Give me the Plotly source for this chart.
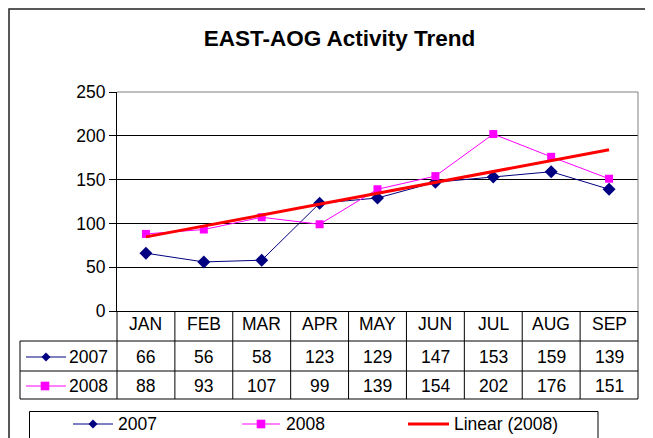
import numpy as np
import plotly.graph_objects as go

# data
months = ["JAN", "FEB", "MAR", "APR", "MAY", "JUN", "JUL", "AUG", "SEP"]
v2007 = [66, 56, 58, 123, 129, 147, 153, 159, 139]
v2008 = [88, 93, 107, 99, 139, 154, 202, 176, 151]
names = ["2007", "2008", "Linear (2008)"]
colors = ["#000080", "#FF00FF", "#FF0000"]

# linear trendline of 2008, the way Excel does it
xi = np.arange(1, len(v2008) + 1)
slope, icpt = np.polyfit(xi, v2008, 1)
trend = list(slope * xi + icpt)

W, H = 653, 438
OFF = 8                          # page body margin
L, R, T, B = 117, 638, 92, 311   # plot area in window pixels
FONT = "Liberation Sans, Arial, sans-serif"
FS = 17.5


def px(x):
    return (x - L) / (R - L)


def py(y):
    return (B - y) / (B - T)


fig = go.Figure()
fig.add_trace(go.Scatter(x=months, y=v2007, name=names[0], mode="lines+markers",
                         line=dict(color=colors[0], width=1),
                         marker=dict(symbol="diamond", size=10, color=colors[0])))
fig.add_trace(go.Scatter(x=months, y=v2008, name=names[1], mode="lines+markers",
                         line=dict(color=colors[1], width=1),
                         marker=dict(symbol="square", size=8, color=colors[1])))
fig.add_trace(go.Scatter(x=months, y=trend, name=names[2], mode="lines",
                         line=dict(color=colors[2], width=3)))

shapes = []
ann = []


def hline(x0, x1, y, color="black", width=1):
    shapes.append(dict(type="line", xref="paper", yref="paper", x0=px(x0), x1=px(x1),
                       y0=py(y), y1=py(y), line=dict(color=color, width=width)))


def vline(x, y0, y1, color="black", width=1):
    shapes.append(dict(type="line", xref="paper", yref="paper", x0=px(x), x1=px(x),
                       y0=py(y0), y1=py(y1), line=dict(color=color, width=width)))


def diamond(cx, cy, r, color):
    path = "M {},{} L {},{} L {},{} L {},{} Z".format(
        px(cx), py(cy - r), px(cx + r), py(cy), px(cx), py(cy + r), px(cx - r), py(cy))
    shapes.append(dict(type="path", xref="paper", yref="paper", path=path,
                       fillcolor=color, line=dict(color=color, width=0)))


def square(cx, cy, r, color):
    shapes.append(dict(type="rect", xref="paper", yref="paper",
                       x0=px(cx - r), x1=px(cx + r), y0=py(cy + r), y1=py(cy - r),
                       fillcolor=color, line=dict(color=color, width=0)))


def label(x, y, text, anchor="left"):
    ann.append(dict(xref="paper", yref="paper", x=px(x), y=py(y), text=text,
                    xanchor=anchor, yanchor="middle", showarrow=False,
                    font=dict(family=FONT, size=FS, color="black")))


# outer chart border
shapes.append(dict(type="rect", xref="paper", yref="paper", x0=px(OFF + 1), x1=px(670),
                   y0=py(OFF + 1), y1=py(460), line=dict(color="#222", width=1.5)))
# plot area border (top / right)
hline(L, R, T, color="#808080")
vline(R, T, B, color="#808080")

# data table
hline(20, R, 341)
hline(20, R, 371)
hline(20, R, 399)
vline(20, 341, 399)
vline(L, B, 399)
vline(R, B, 399)
for i in range(1, len(months)):
    shapes.append(dict(type="line", xref="x", yref="paper", x0=i - 0.5, x1=i - 0.5,
                       y0=py(B), y1=py(399), line=dict(color="black", width=1)))

for i, m in enumerate(months):
    for yy, txt in [(324, m), (357, str(v2007[i])), (386, str(v2008[i]))]:
        ann.append(dict(xref="x", yref="paper", x=m, y=py(yy), text=txt, showarrow=False,
                        yanchor="middle", font=dict(family=FONT, size=FS, color="black")))

# legend keys in the table
hline(26, 66, 357, color=colors[0])
diamond(46, 357, 4.5, colors[0])
label(110, 357, names[0], "right")
hline(26, 66, 386, color=colors[1])
square(45, 386, 4.3, colors[1])
label(110, 386, names[1], "right")

# legend box
shapes.append(dict(type="rect", xref="paper", yref="paper", x0=px(29.5), x1=px(598),
                   y0=py(411.5), y1=py(460), line=dict(color="black", width=1)))
hline(73, 113, 424, color=colors[0])
diamond(93, 424, 4.5, colors[0])
label(116, 424, names[0])
hline(242, 280, 424, color=colors[1])
square(261, 424, 4.3, colors[1])
label(284, 424, names[1])
hline(408, 449, 424, color=colors[2], width=3)
label(452, 424, names[2])

fig.update_layout(
    width=W - OFF, height=H - OFF,
    margin=dict(l=L - OFF, r=W - R, t=T - OFF, b=H - B),
    paper_bgcolor="white", plot_bgcolor="white",
    showlegend=False,
    title=dict(text="EAST-AOG Activity Trend", x=(339.5 - OFF) / (W - OFF), xanchor="center",
               y=1 - (38 - OFF) / (H - OFF), yanchor="middle",
               font=dict(family=FONT, size=22.5, color="black", weight="bold")),
    xaxis=dict(type="category", range=[-0.5, len(months) - 0.5], showticklabels=False,
               showgrid=False, zeroline=False, showline=True, linecolor="black",
               linewidth=1, ticks=""),
    yaxis=dict(range=[0, 250], dtick=50, showgrid=True, gridcolor="black", gridwidth=1,
               zeroline=False, showline=True, linecolor="black", linewidth=1,
               ticks="outside", ticklen=7, tickcolor="black",
               tickfont=dict(family=FONT, size=FS, color="black")),
    shapes=shapes,
    annotations=ann,
)

fig.write_html("out.html")
